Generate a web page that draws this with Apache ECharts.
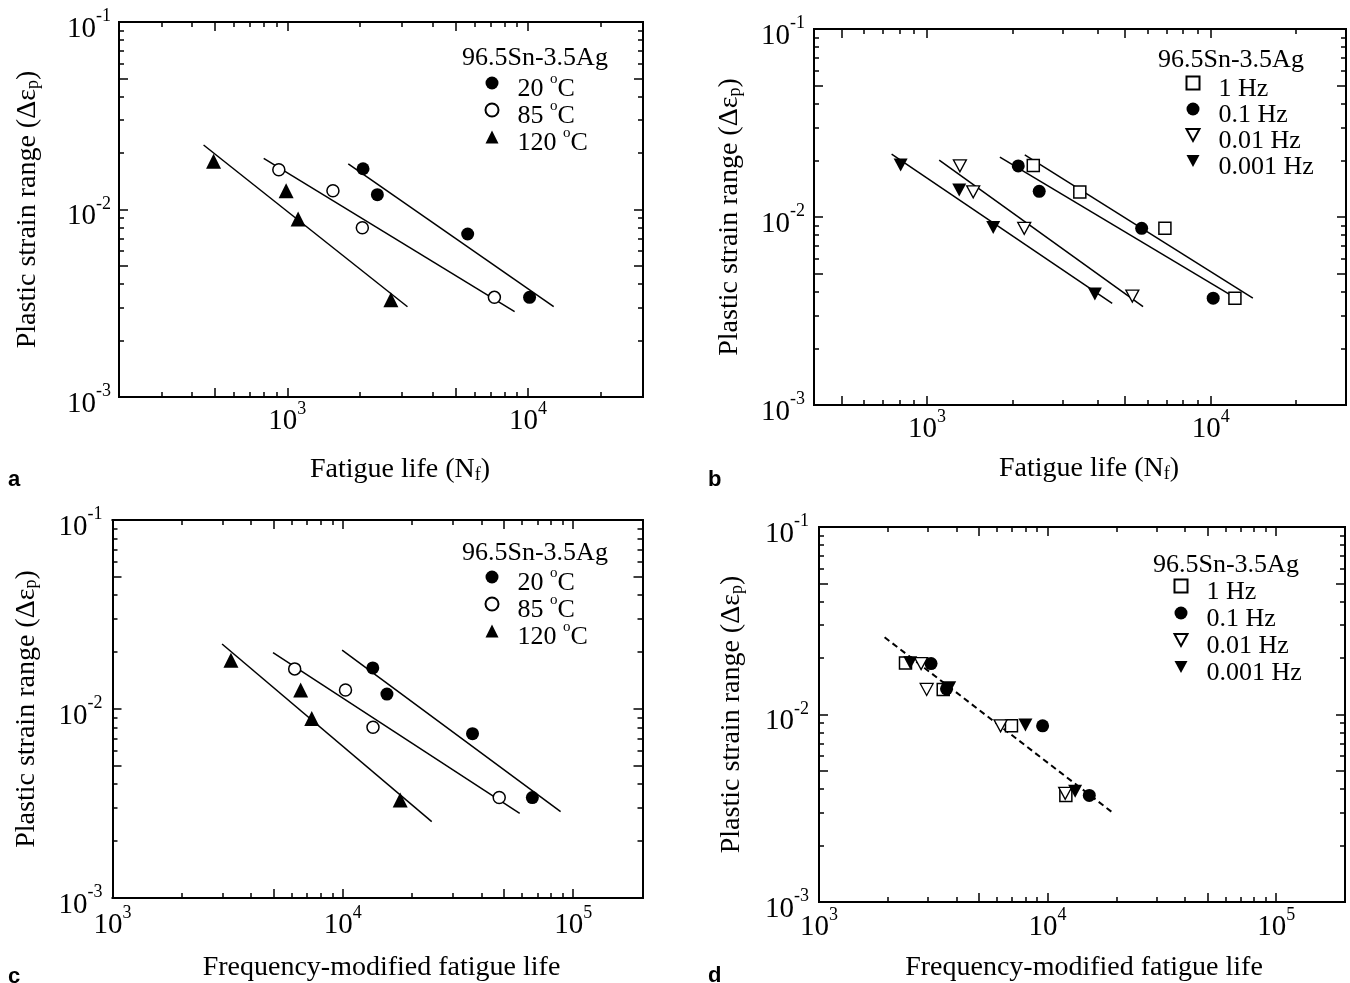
<!DOCTYPE html>
<html><head><meta charset="utf-8">
<script src="https://cdn.jsdelivr.net/npm/echarts@6/dist/echarts.min.js"></script>
<style>html,body{margin:0;padding:0;background:#fff}#c{width:1350px;height:983px}</style>
</head><body><div id="c"></div>
<script>
// ================= DATA =================
// Panels a & c : temperature series (plastic strain range is the same in a and c)
const tempNames = ['20 °C', '85 °C', '120 °C'];
const strain20 = [0.0165, 0.0120, 0.0074, 0.0034];
const strain85 = [0.0163, 0.0126, 0.0080, 0.0034];
const strain120 = [0.0181, 0.0126, 0.0089, 0.0033];
// panel a : fatigue life N_f
const lifeA20 = [2063, 2366, 5610, 10140];
const lifeA85 = [922, 1547, 2049, 7244];
const lifeA120 = [494, 989, 1109, 2692];
// panel a fit lines (end points)
const fitA20x = [1791, 12770], fitA20y = [0.0175, 0.00303];
const fitA85x = [798, 8790], fitA85y = [0.01875, 0.00285];
const fitA120x = [449, 3156], fitA120y = [0.02208, 0.00303];
// panel c : frequency-modified fatigue life
const lifeC20 = [13490, 15540, 36560, 66500];
const lifeC85 = [6180, 10270, 13520, 47750];
const lifeC120 = [3268, 6560, 7330, 17740];
const fitC20x = [9930, 88200], fitC20y = [0.02051, 0.002864];
const fitC85x = [4977, 58600], fitC85y = [0.01986, 0.002806];
const fitC120x = [2990, 24320], fitC120y = [0.02208, 0.002535];

// Panels b & d : frequency series
const freqNames = ['1 Hz', '0.1 Hz', '0.01 Hz', '0.001 Hz'];
const strain1Hz = [0.0188, 0.0136, 0.0087, 0.0037];
const strain01Hz = [0.0187, 0.0137, 0.0087, 0.0037];
const strain001Hz = [0.0187, 0.0136, 0.0087, 0.0038];
const strain0001Hz = [0.0189, 0.0139, 0.0088, 0.0039];
// panel b : fatigue life N_f
const lifeB1Hz = [2371, 3459, 6900, 12180];
const lifeB01Hz = [2099, 2488, 5714, 10210];
const lifeB001Hz = [1307, 1456, 2203, 5297];
const lifeB0001Hz = [808, 1300, 1713, 3908];
const fitB1Hzx = [2213, 14090], fitB1Hzy = [0.02138, 0.003707];
const fitB01Hzx = [1808, 12270], fitB01Hzy = [0.02084, 0.003707];
const fitB001Hzx = [1105, 5780], fitB001Hzy = [0.02009, 0.003334];
const fitB0001Hzx = [751, 4498], fitB0001Hzy = [0.02163, 0.003475];
// panel d : frequency-modified fatigue life
const lifeD1Hz = [2390, 3495, 6950, 12020];
const lifeD01Hz = [3091, 3613, 9510, 15220];
const lifeD001Hz = [2796, 2958, 6226, 11940];
const lifeD0001Hz = [2507, 3712, 7999, 13197];
const fitDx = [1936, 19040], fitDy = [0.0258, 0.00303];

// tick values
const xMajorA = [500, 1000, 5000, 10000];
const xMinorA = [300, 400, 600, 700, 800, 900, 2000, 3000, 4000, 6000, 7000, 8000, 9000, 20000];
const xMajorB = [500, 1000, 5000, 10000];
const xMinorB = [600, 700, 800, 900, 2000, 3000, 4000, 6000, 7000, 8000, 9000, 20000];
const xLabelsAB = [1000, 10000];
const xMajorCD = [5000, 10000, 50000, 100000];
const xMinorCD = [2000, 3000, 4000, 6000, 7000, 8000, 9000, 20000, 30000, 40000, 60000, 70000, 80000, 90000];
const xLabelsCD = [1000, 10000, 100000];
const yMajor = [0.005, 0.01, 0.05];
const yMinor = [0.002, 0.003, 0.004, 0.006, 0.007, 0.008, 0.009, 0.02, 0.03, 0.04, 0.06, 0.07, 0.08, 0.09];
const yLabels = [0.001, 0.01, 0.1];

const yTitle = '{t|Plastic strain range (\u0394\u03b5}{u|p}{t|)}';
const xTitleNf = '{t|Fatigue life (N}{u|f}{t|)}';
const xTitleMod = '{t|Frequency-modified fatigue life}';
const alloy = '96.5Sn-3.5Ag';

// ================= STYLE / LAYOUT =================
const FONT = '"Liberation Serif", "Times New Roman", serif';
const panels = [
  {grid:{left:119, top:22, width:524, height:375}, xMin:200, xMax:30000, xMajor:xMajorA, xMinor:xMinorA, xLabels:xLabelsAB,
   xName:xTitleNf, xGap:59, xPad:38, yGap:77, xLabM:3, yLabM:8},
  {grid:{left:814, top:29, width:532, height:376}, xMin:400, xMax:30000, xMajor:xMajorB, xMinor:xMinorB, xLabels:xLabelsAB,
   xName:xTitleNf, xGap:50, xPad:18, yGap:70, xLabM:3, yLabM:9},
  {grid:{left:112.5, top:520, width:530, height:378}, xMin:1000, xMax:200000, xMajor:xMajorCD, xMinor:xMinorCD, xLabels:xLabelsCD,
   xName:xTitleMod, xGap:56, xPad:8, yGap:72, xLabM:6, yLabM:10},
  {grid:{left:819, top:527, width:526, height:375}, xMin:1000, xMax:200000, xMajor:xMajorCD, xMinor:xMinorCD, xLabels:xLabelsCD,
   xName:xTitleMod, xGap:52, xPad:4, yGap:73, xLabM:4, yLabM:10}
];

function expFmt(v) {
  const e = Math.round(Math.log10(v));
  return '{b|10}{s|' + e + '}';
}
const tickRich = {
  b: {fontFamily: FONT, fontSize: 29, lineHeight: 29, padding: [7, 0, 0, 0], verticalAlign: 'top', color: '#000'},
  s: {fontFamily: FONT, fontSize: 18, lineHeight: 18, verticalAlign: 'top', color: '#000'}
};
const nameRich = {
  t: {fontFamily: FONT, fontSize: 28, lineHeight: 28, verticalAlign: 'top', color: '#000'},
  u: {fontFamily: FONT, fontSize: 18, lineHeight: 18, padding: [15, 0, 0, 0], verticalAlign: 'bottom', color: '#000'}
};
const axisLineStyle = {show: true, onZero: false, lineStyle: {color: '#000', width: 2}};
function ticks(vals, len) {
  return {show: true, inside: true, length: len, customValues: vals, lineStyle: {color: '#000', width: 1.5}};
}

const grids = [], xAxes = [], yAxes = [];
panels.forEach((p, i) => {
  grids.push(Object.assign({outerBoundsMode: 'none', containLabel: false}, p.grid));
  const xb = {type: 'log', logBase: 10, gridIndex: i, min: p.xMin, max: p.xMax, splitLine: {show: false},
    axisLine: axisLineStyle, axisLabel: {show: false}};
  xAxes.push(Object.assign({}, xb, {position: 'bottom', axisTick: ticks(p.xMajor, 9),
    axisLabel: {show: true, customValues: p.xLabels, formatter: expFmt, rich: tickRich, margin: p.xLabM, fontFamily: FONT, color: '#000'},
    name: p.xName, nameLocation: 'middle', nameGap: p.xGap,
    nameTextStyle: {fontFamily: FONT, fontSize: 28, color: '#000', padding: [0, 0, 0, p.xPad], rich: nameRich}}));
  xAxes.push(Object.assign({}, xb, {position: 'bottom', axisTick: ticks(p.xMinor, 5)}));
  xAxes.push(Object.assign({}, xb, {position: 'top', axisTick: ticks(p.xMajor, 9)}));
  xAxes.push(Object.assign({}, xb, {position: 'top', axisTick: ticks(p.xMinor, 5)}));
  const yb = {type: 'log', logBase: 10, gridIndex: i, min: 0.001, max: 0.1, splitLine: {show: false},
    axisLine: axisLineStyle, axisLabel: {show: false}};
  yAxes.push(Object.assign({}, yb, {position: 'left', axisTick: ticks(yMajor, 9),
    axisLabel: {show: true, customValues: yLabels, formatter: expFmt, rich: tickRich, margin: p.yLabM, fontFamily: FONT, color: '#000'},
    name: yTitle, nameLocation: 'middle', nameGap: p.yGap, nameRotate: 90,
    nameTextStyle: {fontFamily: FONT, fontSize: 28, color: '#000', rich: nameRich}}));
  yAxes.push(Object.assign({}, yb, {position: 'left', axisTick: ticks(yMinor, 5)}));
  yAxes.push(Object.assign({}, yb, {position: 'right', axisTick: ticks(yMajor, 9)}));
  yAxes.push(Object.assign({}, yb, {position: 'right', axisTick: ticks(yMinor, 5)}));
});

const S_DOT = {symbol: 'circle', symbolSize: 13, itemStyle: {color: '#000', opacity: 1}};
const S_RING = {symbol: 'circle', symbolSize: 12, itemStyle: {color: '#fff', borderColor: '#000', borderWidth: 1.5, opacity: 1}};
const S_TRI = {symbol: 'triangle', symbolSize: 15, itemStyle: {color: '#000', opacity: 1}};
const S_SQ = {symbol: 'rect', symbolSize: 12, itemStyle: {color: '#fff', borderColor: '#000', borderWidth: 1.5, opacity: 1}};
const DOWN = 'path://M0,0L12,0L6,11Z';
const S_DTRI_OPEN = {symbol: DOWN, symbolSize: [13, 12], itemStyle: {color: '#fff', borderColor: '#000', borderWidth: 1.3, opacity: 1}};
const S_DTRI = {symbol: DOWN, symbolSize: [14, 13], itemStyle: {color: '#000', opacity: 1}};

function pts(xs, ys) { return xs.map((x, k) => [x, ys[k]]); }
const series = [];
function fit(pi, xs, ys, dashed) {
  series.push({type: 'line', name: 'fit', xAxisIndex: pi * 4, yAxisIndex: pi * 4, data: pts(xs, ys),
    symbol: 'none', silent: true, z: 2,
    lineStyle: {color: '#000', width: dashed ? 2 : 1.5, type: dashed ? [6, 4] : 'solid', opacity: 1}});
}
function sc(pi, name, xs, ys, st) {
  series.push(Object.assign({type: 'scatter', name: name, xAxisIndex: pi * 4, yAxisIndex: pi * 4,
    data: pts(xs, ys), z: 3, silent: true}, JSON.parse(JSON.stringify(st))));
}
// panel a
fit(0, fitA20x, fitA20y); fit(0, fitA85x, fitA85y); fit(0, fitA120x, fitA120y);
sc(0, tempNames[0], lifeA20, strain20, S_DOT);
sc(0, tempNames[1], lifeA85, strain85, S_RING);
sc(0, tempNames[2], lifeA120, strain120, S_TRI);
// panel b
fit(1, fitB1Hzx, fitB1Hzy); fit(1, fitB01Hzx, fitB01Hzy); fit(1, fitB001Hzx, fitB001Hzy); fit(1, fitB0001Hzx, fitB0001Hzy);
sc(1, freqNames[0], lifeB1Hz, strain1Hz, S_SQ);
sc(1, freqNames[1], lifeB01Hz, strain01Hz, S_DOT);
sc(1, freqNames[2], lifeB001Hz, strain001Hz, S_DTRI_OPEN);
sc(1, freqNames[3], lifeB0001Hz, strain0001Hz, S_DTRI);
// panel c
fit(2, fitC20x, fitC20y); fit(2, fitC85x, fitC85y); fit(2, fitC120x, fitC120y);
sc(2, tempNames[0], lifeC20, strain20, S_DOT);
sc(2, tempNames[1], lifeC85, strain85, S_RING);
sc(2, tempNames[2], lifeC120, strain120, S_TRI);
// panel d
fit(3, fitDx, fitDy, true);
sc(3, freqNames[0], lifeD1Hz, strain1Hz, S_SQ);
sc(3, freqNames[1], lifeD01Hz, strain01Hz, S_DOT);
sc(3, freqNames[2], lifeD001Hz, strain001Hz, S_DTRI_OPEN);
sc(3, freqNames[3], lifeD0001Hz, strain0001Hz, S_DTRI);

function legFmt(name) {
  if (name.indexOf('°') >= 0) {
    const parts = name.split('°');
    return '{t|' + parts[0] + '}{o|o}{t|' + parts[1] + '}';
  }
  return '{t|' + name + '}';
}
const legRich = {
  t: {fontFamily: FONT, fontSize: 26, lineHeight: 22, padding: [4, 0, 0, 0], verticalAlign: 'top', color: '#000'},
  o: {fontFamily: FONT, fontSize: 15, lineHeight: 10, verticalAlign: 'top', color: '#000'}
};
function legend(names, left, top, gap) {
  return {show: true, data: names, orient: 'vertical', left: left, top: top, itemWidth: 13, itemHeight: 13,
    itemGap: gap, selectedMode: false, padding: 0, formatter: legFmt,
    itemStyle: {opacity: 1},
    textStyle: {fontFamily: FONT, fontSize: 26, color: '#000', padding: [0, 0, 0, 14], rich: legRich}};
}

function txt(s, left, top, font) {
  return {type: 'text', left: left, top: top, silent: true, style: {text: s, font: font, fill: '#000'}};
}
const TFONT = '26px "Liberation Serif"';
const LFONT = 'bold 22px "Liberation Sans"';

const option = {
  animation: false,
  backgroundColor: '#fff',
  grid: grids,
  xAxis: xAxes,
  yAxis: yAxes,
  series: series,
  legend: [
    legend(tempNames, 484.5, 72, -3),
    legend(freqNames, 1185.5, 72, -4),
    legend(tempNames, 484.5, 566, -3),
    legend(freqNames, 1173.5, 575, -3)
  ],
  graphic: {elements: [
    txt(alloy, 462, 45, TFONT),
    txt(alloy, 1158, 47, TFONT),
    txt(alloy, 462, 540, TFONT),
    txt(alloy, 1153, 552, TFONT),
    txt('a', 8, 469, LFONT),
    txt('b', 708, 469, LFONT),
    txt('c', 8, 966, LFONT),
    txt('d', 708, 965, LFONT)
  ]}
};
const chart = echarts.init(document.getElementById('c'), null, {renderer: 'canvas'});
chart.setOption(option);
</script>
</body></html>
